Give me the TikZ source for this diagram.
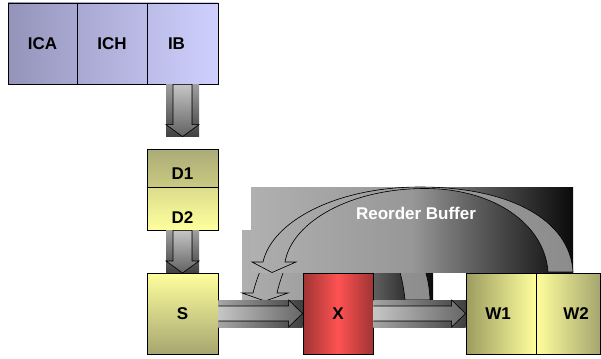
\documentclass[tikz,border=0pt]{standalone}
\usepackage{fontspec}
\setmainfont{Liberation Sans}
\usetikzlibrary{calc}

% colours of the reorder-buffer fade
\definecolor{robA}{HTML}{B0B0B0}
\definecolor{robB}{HTML}{979797}
\definecolor{robC}{HTML}{5C5C5C}
\definecolor{robD}{HTML}{303030}
\definecolor{robE}{HTML}{0A0A0A}
\pgfdeclarehorizontalshading{robfade}{100bp}{color(0bp)=(robA); color(25bp)=(robA); color(50bp)=(robB); color(60bp)=(robC); color(68bp)=(robD); color(75bp)=(robE); color(100bp)=(robE)}

% execute box: dark edges, bright centre
\definecolor{redD}{HTML}{A03434}
\definecolor{redL}{HTML}{FF5252}
\pgfdeclarehorizontalshading{exshade}{100bp}{color(0bp)=(redD); color(25bp)=(redD); color(50bp)=(redL); color(75bp)=(redD); color(100bp)=(redD)}

\definecolor{lavA}{HTML}{9494BA}
\definecolor{lavB}{HTML}{A8A8D2}
\definecolor{lavC}{HTML}{BCBCE8}
\definecolor{lavD}{HTML}{D0D0FF}
\definecolor{olive}{HTML}{9C9C60}
\definecolor{oliveL}{HTML}{CACA82}
\definecolor{oliveM}{HTML}{DCDC8C}
\definecolor{pale}{HTML}{FFFF9E}
\definecolor{bandL}{HTML}{ACACAC}
\definecolor{bandR}{HTML}{8C8C8C}

\tikzset{
  box/.style={draw=black, line width=0.8pt, inner sep=0pt,
    font=\fontsize{17}{20}\selectfont\bfseries},
  lab/.style={inner sep=0pt, font=\fontsize{17}{20}\selectfont\bfseries},
  robbox/.style={shading=robfade},
  robarc/.style={draw=black, line width=0.6pt, left color=bandL, right color=bandR},
  hbg/.style={left color=gray!70, right color=black!75},
  hbody/.style={draw=black, line width=0.6pt, left color=gray!45, right color=black!60},
  vbg/.style={top color=gray!75, bottom color=black!75},
  vbody/.style={draw=black, line width=0.6pt, top color=gray!45, bottom color=black!62},
}

% horizontal block arrow from the east side of #1 to the west side of #2
\newcommand\harrow[2]{%
  \fill[hbg] ($(#1.east)+(0,-13.5)$) rectangle ($(#2.west)+(0,13.5)$);
  \filldraw[hbody] ($(#1.east)+(0,-7.5)$) -- ($(#2.west)+(-14,-7.5)$)
    -- ($(#2.west)+(-14,-13.5)$) -- (#2.west) -- ($(#2.west)+(-14,13.5)$)
    -- ($(#2.west)+(-14,7.5)$) -- ($(#1.east)+(0,7.5)$);
}
% vertical block arrow from the south side of #1 down to the point #2
\newcommand\varrow[2]{%
  \fill[vbg] ($(#1.south)+(-16.5,0)$) rectangle ($(#2)+(16.5,0)$);
  \filldraw[vbody] ($(#1.south)+(-9.5,0)$) -- ($(#1.south)+(9.5,0)$)
    -- ($(#2)+(9.5,-12)$) -- ($(#2)+(16.5,-12)$) -- (#2)
    -- ($(#2)+(-16.5,-12)$) -- ($(#2)+(-9.5,-12)$) -- cycle;
}

\begin{document}
\begin{tikzpicture}[x=1pt,y=-1pt]
\useasboundingbox (0,0) rectangle (601,358);

% fetch stage
\node[box, minimum width=69pt, minimum height=81pt, left color=lavA, right color=lavB] (ica) at (42.5,43.5) {ICA};
\node[box, minimum width=70pt, minimum height=81pt, left color=lavB, right color=lavC] (ich) at (112,43.5) {ICH};
\node[box, minimum width=71pt, minimum height=81pt, left color=lavC, right color=lavD,
      label={[lab,xshift=-6pt]center:IB}] (ib) at (182.5,43.5) {};

% decode stage
\node[box, minimum width=71pt, minimum height=38pt, top color=olive!85!white, bottom color=oliveL,
      label={[lab,yshift=-6pt]center:D1}] (d1) at (182.5,168) {};
\node[box, minimum width=71pt, minimum height=43pt, top color=oliveM, bottom color=pale,
      label={[lab,yshift=-9.5pt]center:D2}] (d2) at (182.5,208.5) {};

% vertical transfers
\coordinate (d1in) at ($(d1.north)+(0,-12)$);
\varrow{ib}{d1in}
\coordinate (sin) at (182.5,273);
\varrow{d2}{sin}

% inner issue loop (mostly hidden behind the reorder buffer)
\fill[robbox] (242,230) rectangle (433,300);
\filldraw[robarc] (430,300) .. controls (428,240) and (385,212) .. (340,212)
  .. controls (295,212) and (265,245) .. (253,293) -- (242,293) -- (265,301)
  -- (288,293) -- (277,293) .. controls (285,258) and (305,224) .. (340,224)
  .. controls (380,224) and (400,250) .. (405,300) -- cycle;

% reorder buffer with its retire loop
\fill[robbox] (251,187) rectangle (573,272);
\filldraw[robarc] (573,272) .. controls (570,220) and (510,187) .. (420,187)
  .. controls (335,187) and (272,222) .. (263,262) -- (252,262) -- (272,272.5)
  -- (296,262) -- (285,262) .. controls (292,222) and (350,188.5) .. (425,188.5)
  .. controls (495,188.5) and (545,225) .. (548,272) -- cycle;
\node[lab, text=white, font=\fontsize{17}{20}\selectfont\bfseries] (rob) at (416,213) {Reorder Buffer};

% schedule, execute, write-back
\node[box, minimum width=71pt, minimum height=81pt, top color=pale, bottom color=olive!90!white] (s) at (182.5,313.5) {S};
\node[box, minimum width=70pt, minimum height=81pt, shading=exshade] (x) at (338,313.5) {X};
\node[box, minimum width=70pt, minimum height=81pt, left color=olive, right color=pale,
      label={[lab,xshift=-3pt]center:W1}] (w1) at (501,313.5) {};
\node[box, minimum width=64pt, minimum height=81pt, left color=pale, right color=olive!90!white,
      label={[lab,xshift=8pt]center:W2}] (w2) at (568,313.5) {};

\harrow{s}{x}
\harrow{x}{w1}
\end{tikzpicture}
\end{document}
